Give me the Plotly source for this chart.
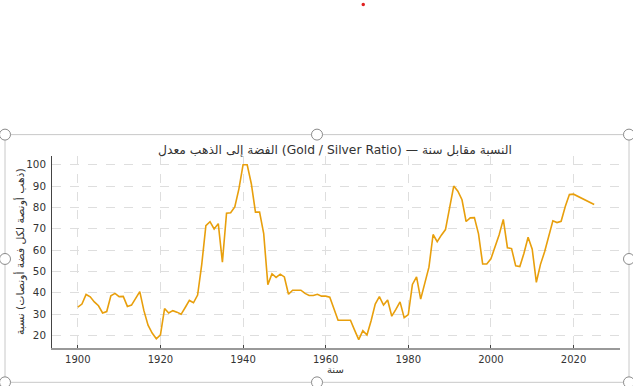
import plotly.graph_objects as go

years = [1900, 1901, 1902, 1903, 1904, 1905, 1906, 1907, 1908, 1909,
         1910, 1911, 1912, 1913, 1914, 1915, 1916, 1917, 1918, 1919,
         1920, 1921, 1922, 1923, 1924, 1925, 1926, 1927, 1928, 1929,
         1930, 1931, 1932, 1933, 1934, 1935, 1936, 1937, 1938, 1939,
         1940, 1941, 1942, 1943, 1944, 1945, 1946, 1947, 1948, 1949,
         1950, 1951, 1952, 1953, 1954, 1955, 1956, 1957, 1958, 1959,
         1960, 1961, 1962, 1963, 1964, 1965, 1966, 1967, 1968, 1969,
         1970, 1971, 1972, 1973, 1974, 1975, 1976, 1977, 1978, 1979,
         1980, 1981, 1982, 1983, 1984, 1985, 1986, 1987, 1988, 1989,
         1990, 1991, 1992, 1993, 1994, 1995, 1996, 1997, 1998, 1999,
         2000, 2001, 2002, 2003, 2004, 2005, 2006, 2007, 2008, 2009,
         2010, 2011, 2012, 2013, 2014, 2015, 2016, 2017, 2018, 2019,
         2020, 2025]
ratio = [33.3, 34.7, 39.2, 38.1, 35.7, 33.9, 30.5, 31.2, 38.6, 39.7,
         38.2, 38.3, 33.6, 34.2, 37.4, 40.5, 31.6, 24.8, 21.1, 18.4,
         20.3, 32.6, 30.5, 31.6, 30.9, 29.9, 33.1, 36.4, 35.3, 38.9,
         53.3, 71.5, 73.3, 69.9, 72.4, 54.3, 77.3, 77.5, 80.2, 88.7,
         100.0, 100.0, 91.1, 77.8, 77.8, 67.7, 43.8, 48.9, 47.2, 48.7,
         47.4, 39.3, 41.2, 41.2, 41.2, 39.7, 38.7, 38.7, 39.3, 38.4,
         38.4, 37.9, 32.3, 27.1, 27.1, 27.1, 27.1, 22.5, 18.0, 22.2,
         20.2, 26.9, 34.7, 38.2, 34.2, 36.6, 29.0, 32.2, 35.7, 28.3,
         29.8, 43.9, 47.4, 37.0, 44.4, 52.0, 67.3, 63.9, 67.0, 69.6,
         79.8, 90.0, 87.6, 83.6, 73.4, 75.1, 75.2, 67.6, 53.5, 53.5,
         55.9, 61.8, 67.2, 74.4, 61.1, 60.7, 52.6, 52.3, 58.5, 66.0,
         60.4, 44.9, 53.3, 59.2, 66.0, 73.7, 72.9, 73.5, 80.4, 86.0,
         86.2, 81.4]

x_ticks = [1900, 1920, 1940, 1960, 1980, 2000, 2020]
y_ticks = [20, 30, 40, 50, 60, 70, 80, 90, 100]

title_text = "معدل الذهب إلى الفضة (Gold / Silver Ratio) — سنة مقابل النسبة"
x_title = "سنة"
y_title = "نسبة (أونصات فضة لكل أونصة ذهب)"


def ltr_words(s):
    # keep the word order left-to-right as in the reference image
    return "\u2066" + " ".join("\u2066" + w + "\u2069" for w in s.split(" ")) + "\u2069"


W, H = 633, 386
L, R, T, B = 52, 620, 155.5, 348.5

def px(x):
    return (x - L) / (R - L)

def py(y):
    return (B - y) / (B - T)

FONT = "DejaVu Sans, Noto Sans, sans-serif"

fig = go.Figure()
fig.add_trace(go.Scatter(x=years, y=ratio, mode="lines",
                         line=dict(color="#E89F0C", width=1.6),
                         hoverinfo="x+y", showlegend=False))

shapes = []
# selection frame around the image
shapes.append(dict(type="rect", xref="paper", yref="paper",
                   x0=px(5), x1=px(629), y0=py(383), y1=py(134),
                   line=dict(color="#c8c8c8", width=1), fillcolor="rgba(0,0,0,0)",
                   layer="below"))
handles = [(5, 134), (317, 134), (629, 134), (5, 259), (629, 259),
           (5, 383), (317, 383), (629, 383)]
r = 5.5
for hx, hy in handles:
    shapes.append(dict(type="circle", xref="paper", yref="paper",
                       x0=px(hx - r), x1=px(hx + r), y0=py(hy + r), y1=py(hy - r),
                       line=dict(color="#8a8a8a", width=1), fillcolor="white",
                       layer="above"))
# small red dot at the top
shapes.append(dict(type="circle", xref="paper", yref="paper",
                   x0=px(361.5), x1=px(365), y0=py(5), y1=py(1.5),
                   line=dict(color="#e02020", width=0), fillcolor="#e02020"))

annotations = [
    dict(text=ltr_words(title_text), xref="paper", yref="paper", x=px(335), y=py(149),
         xanchor="center", yanchor="middle", showarrow=False,
         font=dict(family=FONT, size=12.3, color="#333333")),
    dict(text=x_title, xref="paper", yref="paper", x=px(335), y=py(370.5),
         xanchor="center", yanchor="middle", showarrow=False,
         font=dict(family=FONT, size=10, color="#333333")),
    dict(text=ltr_words(y_title), xref="paper", yref="paper", x=px(20), y=py(252),
         xanchor="center", yanchor="middle", showarrow=False, textangle=-90,
         font=dict(family=FONT, size=10.8, color="#333333")),
]

fig.update_layout(
    width=W, height=H,
    margin=dict(l=L, r=W - R, t=T, b=H - B, pad=0),
    paper_bgcolor="white", plot_bgcolor="white",
    shapes=shapes, annotations=annotations,
    font=dict(family=FONT, size=10, color="#333333"),
)
fig.update_xaxes(range=[1893.75, 2031.25], tickvals=x_ticks,
                 showgrid=True, gridcolor="#dedede", griddash="dash", gridwidth=1,
                 zeroline=False, showline=True, linecolor="#999999", linewidth=2,
                 ticks="inside", ticklen=3, tickcolor="#444444",
                 ticklabelstandoff=1,
                 tickfont=dict(family=FONT, size=10, color="#333333"))
fig.update_yaxes(range=[14.1, 104.1], tickvals=y_ticks,
                 showgrid=True, gridcolor="#dedede", griddash="dash", gridwidth=1,
                 zeroline=False, showline=True, linecolor="#444444", linewidth=1,
                 ticks="", ticklabelstandoff=3,
                 tickfont=dict(family=FONT, size=10.3, color="#333333"))

fig.write_html("out.html")
